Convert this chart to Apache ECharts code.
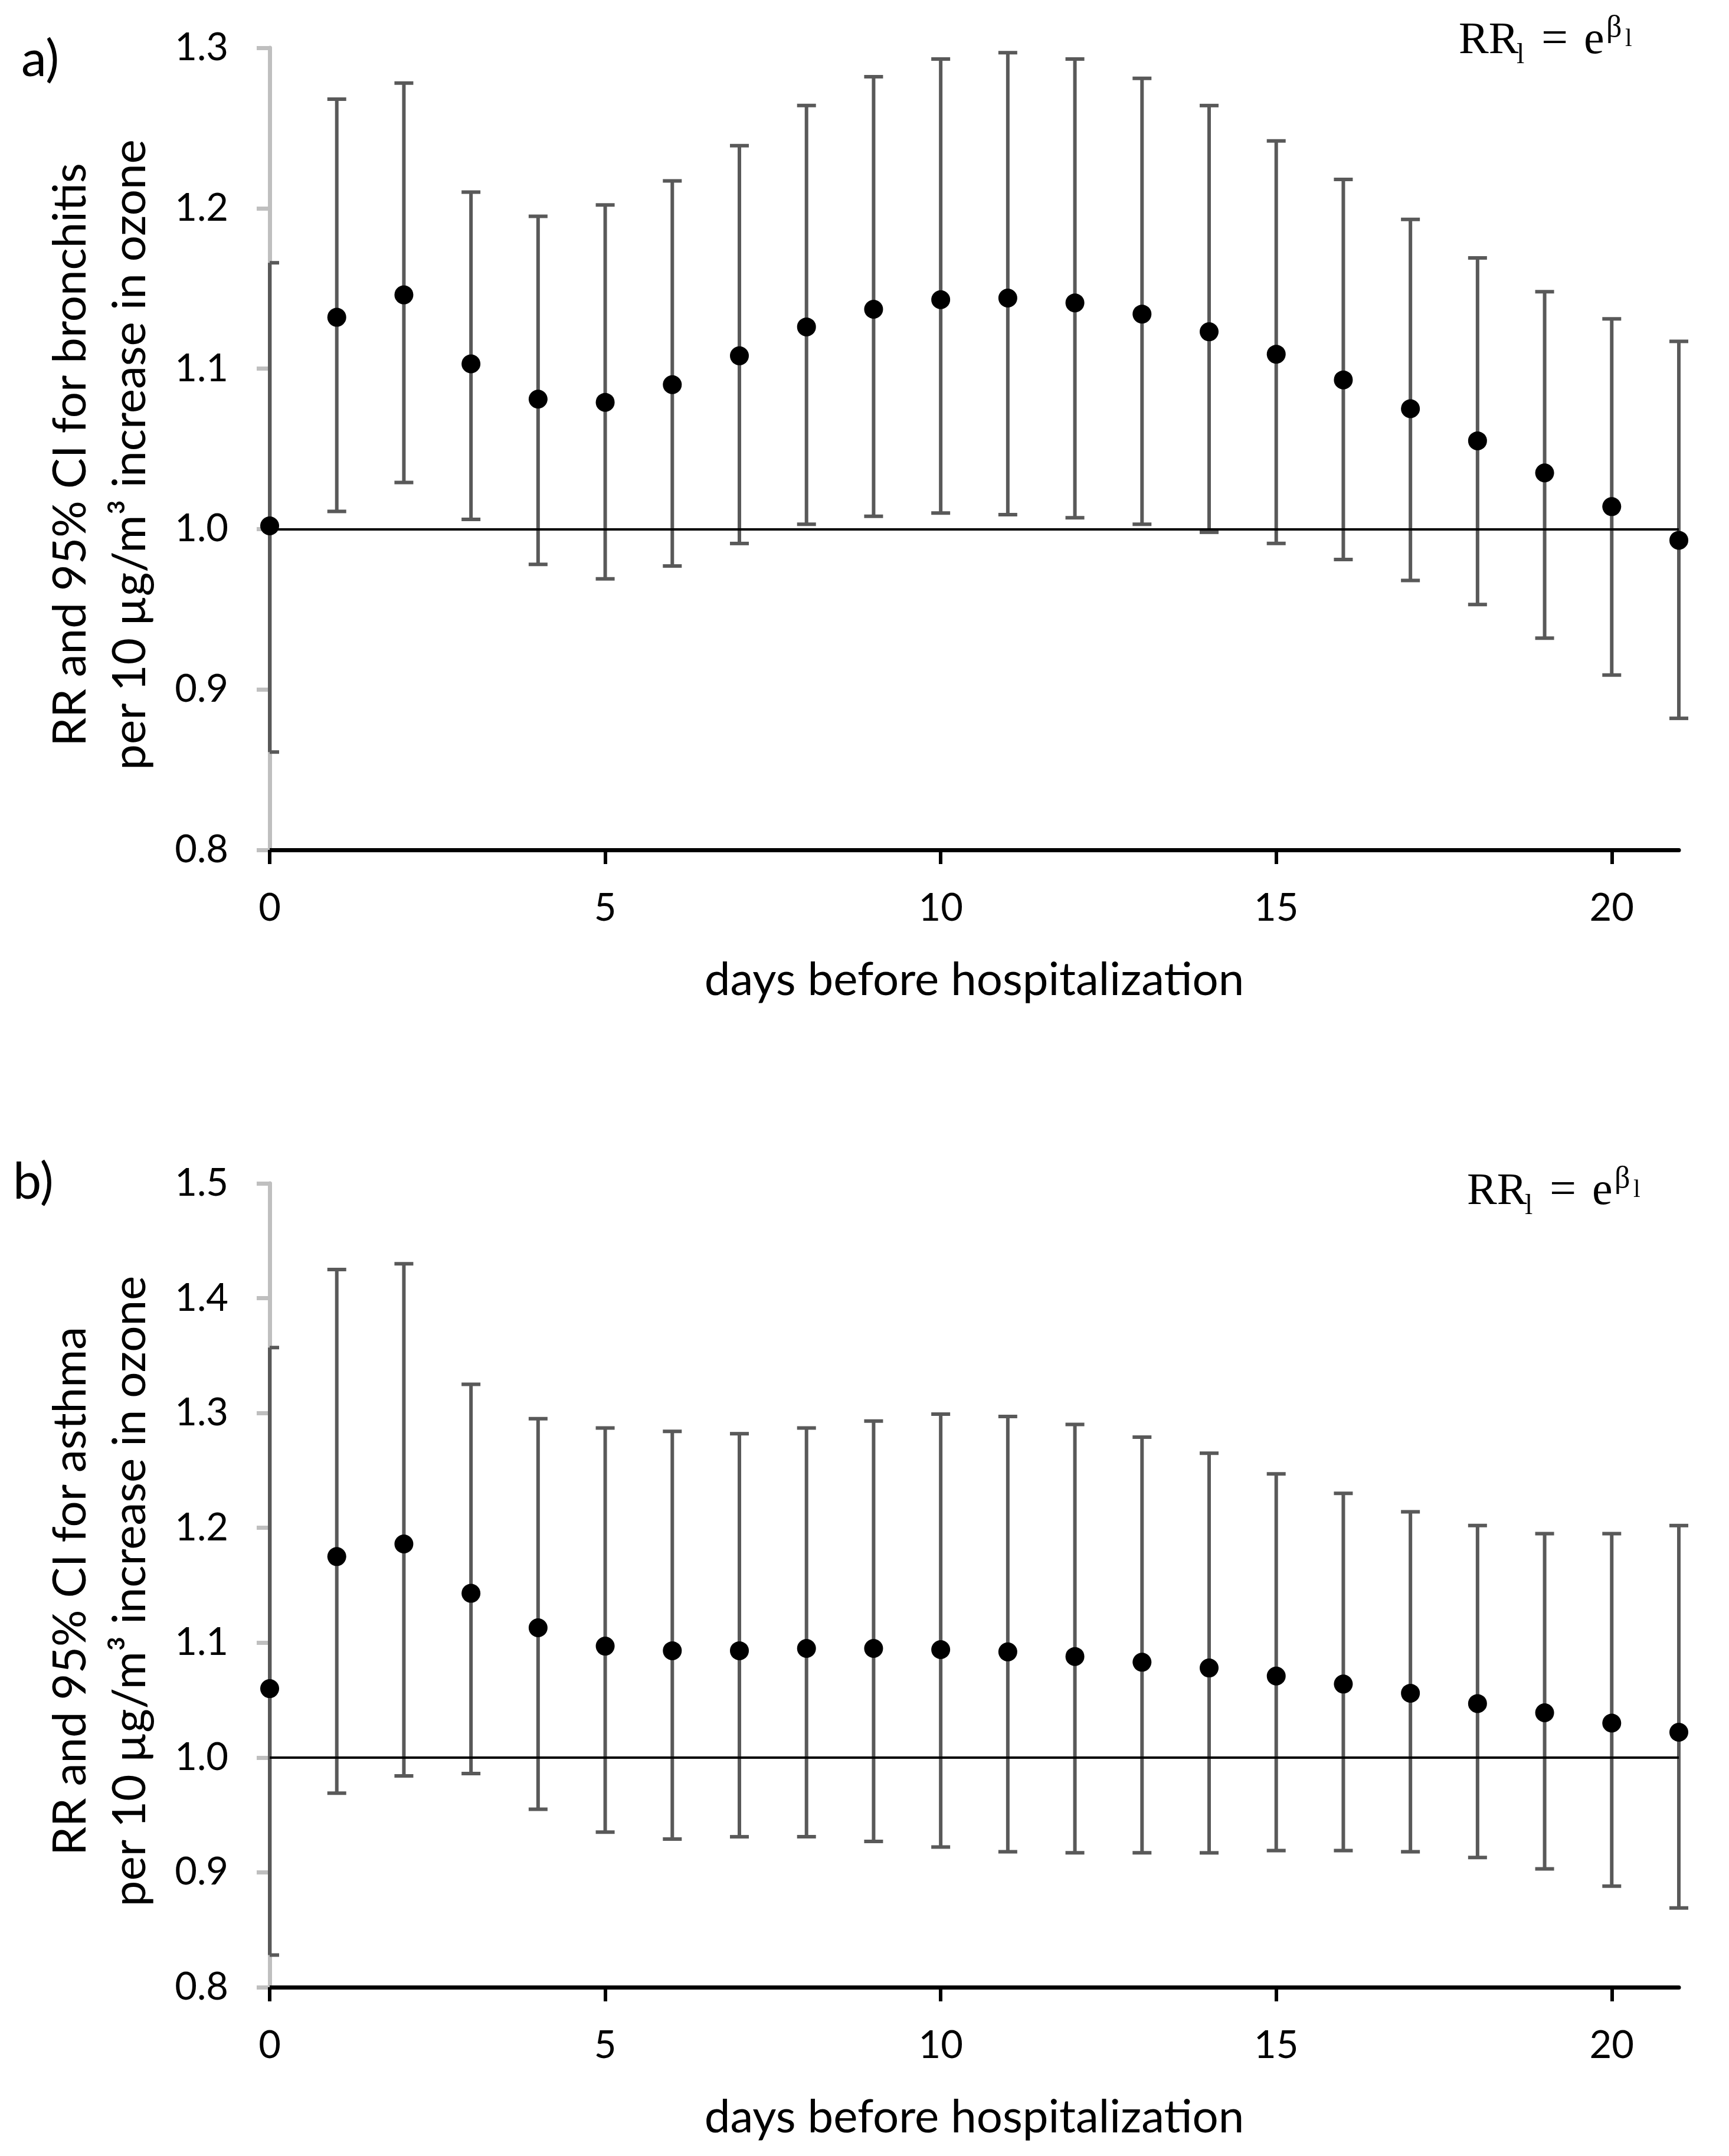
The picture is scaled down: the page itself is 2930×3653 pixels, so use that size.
<!DOCTYPE html>
<html>
<head>
<meta charset="utf-8">
<title>RR by lag day</title>
<script src="https://cdn.jsdelivr.net/npm/echarts@6/dist/echarts.min.js"></script>
<style>
    html, body { margin: 0; padding: 0; background: #fff; }
    #chart { width: 2930px; height: 3653px; }
</style>
</head>
<body>
<div id="chart"></div>
<script>
// lag days
var days = [0, 1, 2, 3, 4, 5, 6, 7, 8, 9, 10, 11, 12, 13, 14, 15, 16, 17, 18, 19, 20, 21];
var xTickValues = [0, 5, 10, 15, 20];

// a) bronchitis
var bronchitisRR   = [1.002, 1.132, 1.146, 1.103, 1.081, 1.079, 1.090, 1.108, 1.126, 1.137, 1.143,
                      1.144, 1.141, 1.134, 1.123, 1.109, 1.093, 1.075, 1.055, 1.035, 1.014, 0.993];
var bronchitisLow  = [0.861, 1.011, 1.029, 1.006, 0.978, 0.969, 0.977, 0.991, 1.003, 1.008, 1.010,
                      1.009, 1.007, 1.003, 0.998, 0.991, 0.981, 0.968, 0.953, 0.932, 0.909, 0.882];
var bronchitisHigh = [1.166, 1.268, 1.278, 1.210, 1.195, 1.202, 1.217, 1.239, 1.264, 1.282, 1.293,
                      1.297, 1.293, 1.281, 1.264, 1.242, 1.218, 1.193, 1.169, 1.148, 1.131, 1.117];

// b) asthma
var asthmaRR   = [1.060, 1.175, 1.186, 1.143, 1.113, 1.097, 1.093, 1.093, 1.095, 1.095, 1.094,
                  1.092, 1.088, 1.083, 1.078, 1.071, 1.064, 1.056, 1.047, 1.039, 1.030, 1.022];
var asthmaLow  = [0.828, 0.969, 0.984, 0.986, 0.955, 0.935, 0.929, 0.931, 0.931, 0.927, 0.922,
                  0.918, 0.917, 0.917, 0.917, 0.919, 0.919, 0.918, 0.913, 0.903, 0.888, 0.869];
var asthmaHigh = [1.357, 1.425, 1.430, 1.325, 1.295, 1.287, 1.284, 1.282, 1.287, 1.293, 1.299,
                  1.297, 1.290, 1.279, 1.265, 1.247, 1.230, 1.214, 1.202, 1.195, 1.195, 1.202];

// reference lines
var refLevelA = 1.0;
var refLevelB = 1.004;

var yTitleA = 'RR and 95% CI for bronchitis\nper 10 \u00b5g/m\u00b3 increase in ozone';
var yTitleB = 'RR and 95% CI for asthma\nper 10 \u00b5g/m\u00b3 increase in ozone';
var xTitle = 'days before hospitalization';

var SANS = 'Lato, "Noto Sans", sans-serif';
var SERIF = '"Liberation Serif", "DejaVu Serif", serif';

var chart = echarts.init(document.getElementById('chart'), null, { renderer: 'canvas' });

var zip = function(a, b, c) {
    var out = [];
    for (var i = 0; i < a.length; i++) {
        out.push(c ? [a[i], b[i], c[i]] : [a[i], b[i]]);
    }
    return out;
};

// vertical bar + two caps; caps are cut at the left edge of the plot
var renderErrorBar = function(params, api) {
    var pLo = api.coord([api.value(0), api.value(1)]);
    var pHi = api.coord([api.value(0), api.value(2)]);
    var half = 16;
    var cs = params.coordSys;
    var left = Math.max(pLo[0] - half, cs.x);
    var st = function() { return { stroke: '#595959', lineWidth: 6 }; };
    return {
        type: 'group',
        children: [
            { type: 'line', shape: { x1: pLo[0], y1: pHi[1], x2: pLo[0], y2: pLo[1] }, style: st() },
            { type: 'line', shape: { x1: left, y1: pHi[1], x2: pLo[0] + half, y2: pHi[1] }, style: st() },
            { type: 'line', shape: { x1: left, y1: pLo[1], x2: pLo[0] + half, y2: pLo[1] }, style: st() }
        ]
    };
};

var makeXAxis = function(idx) {
    return {
        type: 'value', gridIndex: idx, min: 0, max: 21, interval: 5,
        name: xTitle, nameLocation: 'middle', nameGap: 182,
        nameTextStyle: { fontFamily: SANS, fontSize: 78, color: '#000' },
        axisLine: { onZero: false, lineStyle: { color: '#000', width: 7 } },
        axisTick: { show: true, length: 24, customValues: xTickValues, lineStyle: { color: '#000', width: 6 } },
        axisLabel: { customValues: xTickValues, fontFamily: SANS, fontSize: 65, color: '#000', margin: 67 },
        splitLine: { show: false }
    };
};

var makeYAxis = function(idx, max, title) {
    return {
        type: 'value', gridIndex: idx, min: 0.8, max: max, interval: 0.1,
        name: title, nameLocation: 'middle', nameRotate: 90, nameGap: 186,
        nameTextStyle: { fontFamily: SANS, fontSize: 78, lineHeight: 101, color: '#000', padding: [0, 20, 0, 0] },
        axisLine: { show: true, onZero: false, lineStyle: { color: '#bfbfbf', width: 7 } },
        axisTick: { show: true, length: 22, lineStyle: { color: '#bfbfbf', width: 7 } },
        axisLabel: {
            fontFamily: SANS, fontSize: 65, color: '#000', margin: 70,
            formatter: function(v) { return v.toFixed(1); }
        },
        splitLine: { show: false }
    };
};

var makeBars = function(idx, low, high, ref) {
    return {
        type: 'custom', xAxisIndex: idx, yAxisIndex: idx,
        data: zip(days, low, high),
        encode: { x: 0, y: [1, 2] },
        renderItem: renderErrorBar,
        clip: false,
        z: 3,
        markLine: {
            silent: true, symbol: ['none', 'none'],
            label: { show: false },
            lineStyle: { color: '#000', width: 4, type: 'solid', opacity: 1 },
            data: [{ yAxis: ref }]
        }
    };
};

var makeDots = function(idx, rr) {
    return {
        type: 'scatter', xAxisIndex: idx, yAxisIndex: idx,
        data: zip(days, rr),
        symbol: 'circle', symbolSize: 32,
        itemStyle: { color: '#000', opacity: 1 },
        clip: false,
        z: 5
    };
};

// RR_l = e^(beta_l), pieces placed around a baseline
var formula = function(x0, base) {
    var parts = [
        { t: 'RR',     dx: 0,   db: 0,   fs: 76 },
        { t: 'l',      dx: 98,  db: 15,  fs: 48 },
        { t: '=',      dx: 140, db: 0,   fs: 80 },
        { t: 'e',      dx: 212, db: 0,   fs: 78 },
        { t: '\u03b2', dx: 250, db: -30, fs: 52 },
        { t: 'l',      dx: 282, db: -15, fs: 42 }
    ];
    return parts.map(function(p) {
        return {
            type: 'text', x: x0 + p.dx, y: base + p.db - 0.34 * p.fs,
            style: { text: p.t, fontFamily: SERIF, fontSize: p.fs, fill: '#000', align: 'left', verticalAlign: 'middle' }
        };
    });
};

var option = {
    animation: false,
    backgroundColor: '#fff',
    grid: [
        { left: 457, top: 81, width: 2388, height: 1359, containLabel: false, outerBoundsMode: 'none' },
        { left: 457, top: 2005, width: 2388, height: 1362, containLabel: false, outerBoundsMode: 'none' }
    ],
    xAxis: [makeXAxis(0), makeXAxis(1)],
    yAxis: [makeYAxis(0, 1.3, yTitleA), makeYAxis(1, 1.5, yTitleB)],
    series: [
        makeBars(0, bronchitisLow, bronchitisHigh, refLevelA),
        makeDots(0, bronchitisRR),
        makeBars(1, asthmaLow, asthmaHigh, refLevelB),
        makeDots(1, asthmaRR)
    ],
    graphic: [
        { type: 'text', x: 36, y: 101, style: { text: 'a)', fontFamily: SANS, fontSize: 86, fill: '#000', verticalAlign: 'middle' } },
        { type: 'text', x: 22, y: 2003, style: { text: 'b)', fontFamily: SANS, fontSize: 86, fill: '#000', verticalAlign: 'middle' } }
    ].concat(formula(2472, 96)).concat(formula(2486, 2046))
};

chart.setOption(option);
</script>
</body>
</html>
